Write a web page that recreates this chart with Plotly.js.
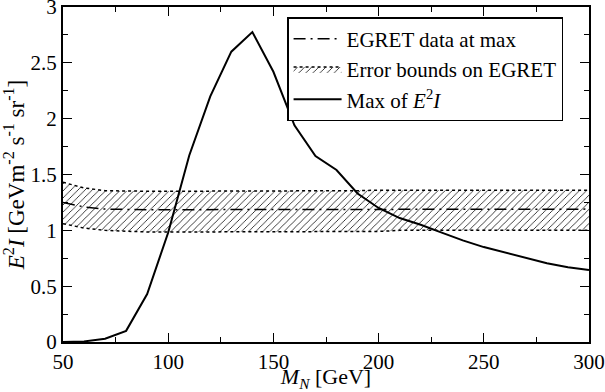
<!DOCTYPE html>
<html>
<head>
<meta charset="utf-8">
<script src="https://cdn.plot.ly/plotly-3.0.1.min.js"></script>
<style>
  html, body { margin: 0; padding: 0; background: #fff; }
  #graph { width: 605px; height: 392px; }
</style>
</head>
<body>
<div id="graph"></div>
<script>
// M_N grid in GeV
const massGeV = [50, 60, 70, 80, 90, 100, 110, 120, 130, 140, 150, 160, 170, 180, 190,
                 200, 210, 220, 230, 240, 250, 260, 270, 280, 290, 300];

// max of E^2 I
const maxE2I = [0.0, 0.005, 0.03, 0.1, 0.43, 0.98, 1.67, 2.2, 2.6, 2.775, 2.42, 1.94, 1.665, 1.54, 1.33,
                1.2, 1.11, 1.05, 0.98, 0.91, 0.85, 0.8, 0.75, 0.705, 0.67, 0.645];

// EGRET data and its error bounds
const egretMid = [1.25, 1.21, 1.19, 1.185, 1.185, 1.185, 1.185, 1.185, 1.185, 1.185, 1.185, 1.185, 1.185, 1.185, 1.185,
                  1.19, 1.19, 1.19, 1.19, 1.19, 1.19, 1.19, 1.19, 1.19, 1.19, 1.19];
const egretHigh = [1.43, 1.38, 1.355, 1.35, 1.35, 1.35, 1.35, 1.35, 1.355, 1.355, 1.355, 1.355, 1.355, 1.355, 1.355,
                   1.36, 1.36, 1.36, 1.36, 1.36, 1.36, 1.36, 1.36, 1.36, 1.36, 1.36];
const egretLow = [1.06, 1.02, 1.0, 0.99, 0.985, 0.985, 0.985, 0.985, 0.985, 0.985, 0.985, 0.985, 0.985, 0.985, 0.985,
                  0.99, 1.0, 1.0, 1.0, 1.0, 1.0, 1.0, 1.0, 1.0, 1.0, 1.0];

const font = 'Liberation Serif';

let data = [
    {
        x: massGeV, y: egretLow,
        type: 'scatter', mode: 'lines',
        line: {color: '#000', width: 1.5, dash: 'dot'},
        showlegend: false, hoverinfo: 'skip'
    },
    {
        x: massGeV, y: egretHigh,
        type: 'scatter', mode: 'lines',
        name: 'Error bounds on EGRET',
        line: {color: '#000', width: 1.5, dash: 'dot'},
        fill: 'tonexty',
        fillcolor: 'rgba(0,0,0,0)',
        fillpattern: {shape: '/', fgcolor: '#000', bgcolor: 'rgba(255,255,255,0)', size: 5, solidity: 0.15},
        legendrank: 2
    },
    {
        x: massGeV, y: egretMid,
        type: 'scatter', mode: 'lines',
        name: 'EGRET data at max',
        line: {color: '#000', width: 1.5, dash: '12px,5px,2px,5px'},
        legendrank: 1
    },
    {
        x: massGeV, y: maxE2I,
        type: 'scatter', mode: 'lines',
        name: 'Max of <i>E</i><sup>2</sup><i>I</i>',
        line: {color: '#000', width: 2},
        legendrank: 3
    }
];

const axisCommon = {
    showline: true,
    linecolor: '#000',
    linewidth: 2,
    mirror: 'allticks',
    ticks: 'inside',
    ticklen: 9,
    tickwidth: 1,
    tickcolor: '#000',
    showgrid: false,
    zeroline: false,
    automargin: false,
    ticklabeloverflow: 'allow',
    tickfont: {family: font, size: 21, color: '#000'}
};

let layout = {
    width: 605,
    height: 392,
    margin: {l: 63, r: 16, t: 7, b: 50},
    paper_bgcolor: '#fff',
    plot_bgcolor: '#fff',
    font: {family: font, color: '#000'},
    showlegend: true,
    legend: {
        x: 0.426, y: 0.97, xanchor: 'left', yanchor: 'top',
        traceorder: 'normal',
        bordercolor: '#000', borderwidth: 1.5, bgcolor: '#fff',
        font: {family: font, size: 21, color: '#000'},
        itemwidth: 48,
        tracegroupgap: 0
    },
    xaxis: Object.assign({}, axisCommon, {
        range: [50, 300],
        tick0: 50, dtick: 50,
        minor: {dtick: 25, ticklen: 5, tickcolor: '#000', ticks: 'inside'},
        title: {text: '<i>M</i><sub><i>N</i></sub> [GeV]', font: {family: font, size: 22, color: '#000'}, standoff: 4}
    }),
    yaxis: Object.assign({}, axisCommon, {
        range: [0, 3],
        tick0: 0, dtick: 0.5,
        minor: {dtick: 0.25, ticklen: 5, tickcolor: '#000', ticks: 'inside'},
        title: {text: '<i>E</i><sup>2</sup><i>I</i> [GeVm<sup>-2</sup> s<sup>-1</sup> sr<sup>-1</sup>]', font: {family: font, size: 23, color: '#000'}, standoff: 4}
    })
};

let config = {
    displayModeBar: false,
    staticPlot: true
};

Plotly.newPlot('graph', data, layout, config);
</script>
</body>
</html>
